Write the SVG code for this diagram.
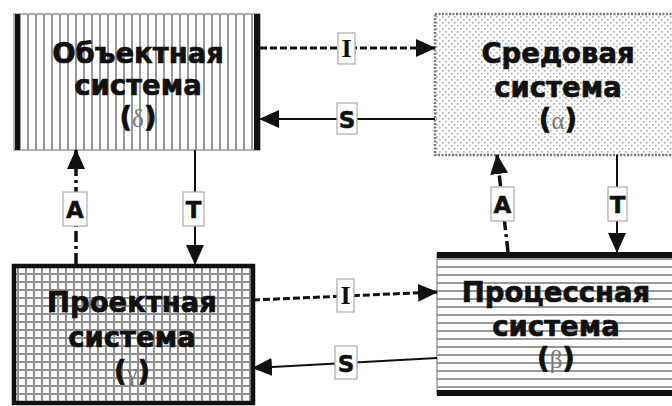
<svg xmlns="http://www.w3.org/2000/svg" width="672" height="406" viewBox="0 0 672 406">
<style>
.t{font-family:"DejaVu Sans","Verdana",sans-serif;font-weight:bold;font-size:27.5px;fill:#111;stroke:#111;stroke-width:0.7;text-anchor:middle}
.g{font-family:"Liberation Serif","DejaVu Serif",serif;font-weight:normal;fill:#777;stroke:none;font-size:25px}
.lb{fill:#fff;stroke:#aaa;stroke-width:1.2}
.lt{font-family:"DejaVu Sans",sans-serif;font-weight:bold;font-size:23px;fill:#111;stroke:#111;stroke-width:0.5;text-anchor:middle}
.li{font-family:"Liberation Serif",serif;font-weight:bold;font-size:26px;fill:#111;text-anchor:middle}
.dash{fill:none;stroke:#111;stroke-width:3;stroke-dasharray:7 3}
.dd{fill:none;stroke:#111;stroke-width:3.5;stroke-dasharray:11 4 3 4}
.sol{fill:none;stroke:#111;stroke-width:2}
</style>
<defs>
<pattern id="vs" patternUnits="userSpaceOnUse" width="8" height="8" x="3">
<rect width="8" height="8" fill="#fff"/><rect x="0" width="2" height="8" fill="#999"/>
</pattern>
<pattern id="dots" patternUnits="userSpaceOnUse" width="6" height="6">
<rect width="6" height="6" fill="#fff"/><rect x="1" y="1" width="1.6" height="1.6" fill="#aaa"/><rect x="4" y="4" width="1.6" height="1.6" fill="#aaa"/>
</pattern>
<pattern id="grid" patternUnits="userSpaceOnUse" width="8" height="8" x="1" y="1">
<rect width="8" height="8" fill="#fff"/><rect x="0" width="2" height="8" fill="#909090"/><rect y="0" width="8" height="2" fill="#909090"/>
</pattern>
<pattern id="hs" patternUnits="userSpaceOnUse" width="8" height="8" y="2">
<rect width="8" height="8" fill="#fff"/><rect y="0" width="8" height="2" fill="#999"/>
</pattern>
<marker id="ah" viewBox="0 0 20 18" refX="19" refY="9" markerWidth="20" markerHeight="18" orient="auto" markerUnits="userSpaceOnUse">
<path d="M0,0 L20,9 L0,18 z" fill="#111"/>
</marker>
</defs>

<g id="obj">
<rect x="14" y="14" width="246" height="136" fill="url(#vs)" stroke="#999" stroke-width="1.5"/>
<rect x="15" y="14" width="5" height="136" fill="#111"/>
<rect x="254" y="14" width="6" height="136" fill="#111"/>
<text class="t" x="138" y="63">Объектная</text>
<text class="t" x="138" y="95">система</text>
<text class="t" x="138" y="127">(<tspan class="g">δ</tspan>)</text>
</g>

<g id="sred">
<rect x="435" y="14" width="240" height="141" fill="url(#dots)" stroke="#777" stroke-width="2.5" stroke-dasharray="2 1.5"/>
<text class="t" x="558" y="63">Средовая</text>
<text class="t" x="558" y="97">система</text>
<text class="t" x="558" y="129">(<tspan class="g">α</tspan>)</text>
</g>

<g id="proekt">
<rect x="14" y="266" width="239" height="137" fill="url(#grid)" stroke="#111" stroke-width="4.5"/>
<text class="t" x="132" y="312">Проектная</text>
<text class="t" x="132" y="347">система</text>
<text class="t" x="132" y="381">(<tspan class="g">γ</tspan>)</text>
</g>

<g id="proc">
<rect x="437" y="254" width="240" height="140" fill="url(#hs)" stroke="#999" stroke-width="1.5"/>
<rect x="437" y="252" width="240" height="6" fill="#111"/>
<rect x="437" y="390" width="240" height="6" fill="#111"/>
<text class="t" x="556" y="302">Процессная</text>
<text class="t" x="556" y="336">система</text>
<text class="t" x="556" y="368">(<tspan class="g">β</tspan>)</text>
</g>

<g id="connectors">
<line class="dash" x1="260" y1="48" x2="435" y2="48" marker-end="url(#ah)"/>
<line class="sol" x1="435" y1="119" x2="260" y2="119" marker-end="url(#ah)"/>
<line class="dd" x1="76" y1="264" x2="76" y2="150" marker-end="url(#ah)"/>
<line class="sol" x1="195" y1="150" x2="195" y2="264" marker-end="url(#ah)"/>
<line class="dd" x1="508" y1="252" x2="497" y2="155" marker-end="url(#ah)"/>
<line class="sol" x1="617" y1="155" x2="617" y2="252" marker-end="url(#ah)"/>
<line class="dash" x1="253" y1="300" x2="437" y2="292" marker-end="url(#ah)"/>
<line class="sol" x1="437" y1="358" x2="253" y2="368" marker-end="url(#ah)"/>

<rect class="lb" x="338" y="33" width="17" height="31"/>
<text class="li" x="346.5" y="57">I</text>
<rect class="lb" x="337" y="103" width="20" height="31"/>
<text class="lt" x="347" y="128">S</text>
<rect class="lb" x="63" y="192" width="24" height="34"/>
<text class="lt" x="75" y="218">A</text>
<rect class="lb" x="183" y="192" width="21" height="34"/>
<text class="lt" x="193.5" y="218">T</text>
<rect class="lb" x="491" y="187" width="23" height="34"/>
<text class="lt" x="502.5" y="213">A</text>
<rect class="lb" x="608" y="187" width="19" height="34"/>
<text class="lt" x="617.5" y="213">T</text>
<rect class="lb" x="337" y="279" width="17" height="33"/>
<text class="li" x="345.5" y="304">I</text>
<rect class="lb" x="335" y="346" width="22" height="33"/>
<text class="lt" x="346" y="372">S</text>
</g>
</svg>
